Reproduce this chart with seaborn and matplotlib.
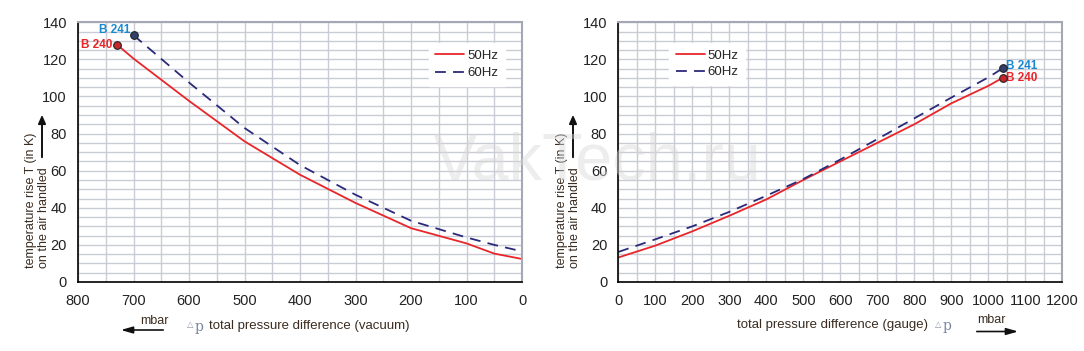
import numpy as np
import pandas as pd
import seaborn as sns
import matplotlib.pyplot as plt
from matplotlib.ticker import MultipleLocator
from matplotlib.patches import FancyArrowPatch

# vacuum side (left chart)
vac_x_50 = [730, 700, 600, 500, 400, 300, 200, 100, 50, 0]
vac_y_50 = [128, 120.4, 97.6, 75.8, 57.8, 42.6, 29, 20.8, 15.3, 12.4]
vac_x_60 = [700, 600, 500, 400, 300, 200, 100, 50, 0]
vac_y_60 = [133, 107.5, 83, 63, 47, 33, 24, 20, 16.5]

# gauge side (right chart)
gau_x = [0, 100, 200, 300, 400, 500, 600, 700, 800, 900, 1000, 1040]
gau_y_50 = [13.2, 19.6, 27.3, 35.7, 44.5, 55, 65, 75, 85, 96.3, 105.7, 110.2]
gau_y_60 = [16.2, 23, 30, 37.8, 46.5, 55.5, 66, 77, 88.2, 99.4, 110.3, 115.3]

labels = ["50Hz", "60Hz"]
red = "#e8262a"
navy = "#2b2a7a"
txt = "#3a2c20"

sns.set_style("white")
plt.rcParams["font.family"] = ["Liberation Sans", "DejaVu Sans"]

fig = plt.figure(figsize=(10.84, 3.51), dpi=100)
axL = fig.add_axes([0.072, 0.1966, 0.4096, 0.74])
axR = fig.add_axes([0.5704, 0.1966, 0.4096, 0.74])


def style(ax):
    ax.set_ylim(0, 140)
    ax.xaxis.set_major_locator(MultipleLocator(100))
    ax.xaxis.set_minor_locator(MultipleLocator(50))
    ax.yaxis.set_major_locator(MultipleLocator(20))
    ax.yaxis.set_minor_locator(MultipleLocator(5))
    ax.grid(True, which="both", color="#c9ccd4", linewidth=1.0)
    ax.set_axisbelow(True)
    ax.tick_params(which="major", direction="out", length=4, width=1,
                   color="black", labelsize=10.5, labelcolor="#222222")
    ax.tick_params(axis="x", pad=5)
    ax.tick_params(axis="y", pad=4)
    ax.tick_params(which="minor", length=0)
    for s in ["left", "bottom"]:
        ax.spines[s].set_color("black")
        ax.spines[s].set_linewidth(1.2)
    for s in ["top", "right"]:
        ax.spines[s].set_color("#a3a8b4")
        ax.spines[s].set_linewidth(1.5)
    ax.set_xlabel("")
    ax.set_ylabel("")


def legend(ax, x, y, sp):
    ax.legend(loc="upper left", bbox_to_anchor=(x, y), frameon=True,
              facecolor="white", edgecolor="white", framealpha=1,
              fancybox=False, fontsize=9.5, handlelength=2.2,
              handletextpad=0.2, labelspacing=sp, borderpad=0.5)


# left: vacuum
sns.lineplot(x=vac_x_50, y=vac_y_50, ax=axL, color=red, linewidth=1.3,
             label=labels[0], sort=False)
sns.lineplot(x=vac_x_60, y=vac_y_60, ax=axL, color=navy, linewidth=1.3,
             label=labels[1], sort=False)
axL.lines[1].set_dashes([6, 4])
axL.set_xlim(800, 0)
style(axL)
legend(axL, 0.775, 0.945, 0.38)
axL.plot(vac_x_50[0], vac_y_50[0], "o", ms=5.5, mfc="#c8262a", mec="#222222", mew=0.8, zorder=5)
axL.plot(vac_x_60[0], vac_y_60[0], "o", ms=5.5, mfc="#30406a", mec="#222222", mew=0.8, zorder=5)
axL.annotate("B 240", (vac_x_50[0], vac_y_50[0]), xytext=(-3, 0), textcoords="offset points",
             ha="right", va="center", color=red, fontsize=8.5, fontweight="bold")
axL.annotate("B 241", (vac_x_60[0], vac_y_60[0]), xytext=(-2, 3.5), textcoords="offset points",
             ha="right", va="center", color="#1a88d0", fontsize=8.5, fontweight="bold")

# right: gauge
sns.lineplot(x=gau_x, y=gau_y_50, ax=axR, color=red, linewidth=1.3,
             label=labels[0], sort=False)
sns.lineplot(x=gau_x, y=gau_y_60, ax=axR, color=navy, linewidth=1.3,
             label=labels[1], sort=False)
axR.lines[1].set_dashes([6, 4])
axR.set_xlim(0, 1200)
style(axR)
legend(axR, 0.10, 0.945, 0.3)
axR.plot(gau_x[-1], gau_y_50[-1], "o", ms=5.5, mfc="#c8262a", mec="#222222", mew=0.8, zorder=5)
axR.plot(gau_x[-1], gau_y_60[-1], "o", ms=5.5, mfc="#30406a", mec="#222222", mew=0.8, zorder=5)
axR.annotate("B 241", (gau_x[-1], gau_y_60[-1]), xytext=(2, 1.5), textcoords="offset points",
             ha="left", va="center", color="#1a88d0", fontsize=8.5, fontweight="bold")
axR.annotate("B 240", (gau_x[-1], gau_y_50[-1]), xytext=(2, -0.5), textcoords="offset points",
             ha="left", va="center", color=red, fontsize=8.5, fontweight="bold")

# watermark
fig.text(597 / 1084, 1 - 162 / 351, "VakTech.ru", fontsize=48, color="#d8d8d8", alpha=0.45,
         ha="center", va="center", zorder=10)

# y labels with upward arrows
for xl, xa in [(30 / 1084, 42 / 1084), (561 / 1084, 573 / 1084)]:
    fig.text(xl + 7.5 / 1084, 1 - 268 / 351, "temperature rise T (in K)\non the air handled",
             rotation=90, ha="center", va="bottom", multialignment="left",
             fontsize=9, color=txt, linespacing=1.05)
    fig.patches.append(FancyArrowPatch(
        (xa, 1 - 160 / 351), (xa, 1 - 112 / 351), transform=fig.transFigure,
        arrowstyle="-|>,head_length=5,head_width=2.2", color="#111111", lw=1.4))

# x labels
fig.text(140 / 1084, 1 - 321 / 351, "mbar", fontsize=9, color=txt, ha="left", va="center")
fig.patches.append(FancyArrowPatch(
    (166 / 1084, 1 - 330 / 351), (118 / 1084, 1 - 330 / 351), transform=fig.transFigure,
    arrowstyle="-|>,head_length=7,head_width=2", color="#111111", lw=1.2))
fig.text(187 / 1084, 1 - 326 / 351, "\u25b3", fontsize=6, color="#8a94a8", ha="left", va="center")
fig.text(195 / 1084, 1 - 327 / 351, "p", fontsize=10, family="DejaVu Serif", color="#7a86a0",
         ha="left", va="center")
fig.text(209 / 1084, 1 - 326 / 351, "total pressure difference (vacuum)", fontsize=9.5,
         color=txt, ha="left", va="center")

fig.text(737 / 1084, 1 - 325 / 351, "total pressure difference (gauge)", fontsize=9.5,
         color=txt, ha="left", va="center")
fig.text(935 / 1084, 1 - 325 / 351, "\u25b3", fontsize=6, color="#8a94a8", ha="left", va="center")
fig.text(943 / 1084, 1 - 326 / 351, "p", fontsize=10, family="DejaVu Serif", color="#7a86a0",
         ha="left", va="center")
fig.text(977 / 1084, 1 - 320 / 351, "mbar", fontsize=9, color=txt, ha="left", va="center")
fig.patches.append(FancyArrowPatch(
    (974 / 1084, 1 - 331.5 / 351), (1021 / 1084, 1 - 331.5 / 351), transform=fig.transFigure,
    arrowstyle="-|>,head_length=7,head_width=2", color="#111111", lw=1.2))

fig.savefig("out.png", dpi=100)
